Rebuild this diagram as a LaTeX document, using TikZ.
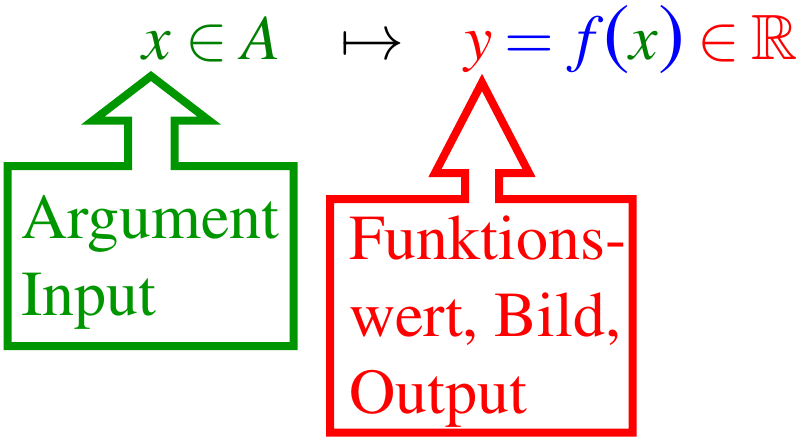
\documentclass[tikz,border=0pt]{standalone}
\usepackage[T1]{fontenc}
\usepackage{amssymb}
\usepackage{mathptmx}
\definecolor{gruen}{RGB}{0,150,0}
\definecolor{dgruen}{RGB}{0,128,0}
\definecolor{rot}{RGB}{255,0,0}
\definecolor{blau}{RGB}{0,0,255}
\newcommand{\klammer}[1]{\mbox{\fontsize{80}{80}\selectfont #1}}
\tikzset{
  rahmen/.style={line width=8pt, line join=miter},
  gross/.style={inner sep=0pt, font=\fontsize{64}{77}\selectfont},
}
\begin{document}
\begin{tikzpicture}[x=1pt, y=-1pt]
    \useasboundingbox (0,0) rectangle (803,437);
    % Zuordnung
    \node[gross, text=dgruen, anchor=base west] (arg) at (142,59) {$x\in A$};
    \node[gross, anchor=base west] (pfeil) at (340,59) {$\mapsto$};
    \node[gross, anchor=base west] (wert) at (464,59)
        {$\thickmuskip=3.4mu\color{rot}y\color{blau}=f\klammer{(}\color{dgruen}x\color{blau}\klammer{)}\color{rot}\in\mathbb{R}$};

    % Argument (gruen)
    \draw[rahmen, gruen] (151,76) -- (209,120.5) -- (174.5,120.5) -- (174.5,166)
        -- (293.5,166) -- (293.5,346) -- (7.5,346) -- (7.5,166) -- (128,166)
        -- (128,120.5) -- (93,120.5) -- cycle;
    \node[gross, text=gruen, anchor=base west, align=left] (eingabe) at (21,315)
        {Argument\\Input};

    % Funktionswert (rot)
    \draw[rahmen, rot] (482,82.5) -- (529,173) -- (499,173) -- (499,199)
        -- (632.5,199) -- (632.5,432.5) -- (330,432.5) -- (330,199) -- (465,199)
        -- (465,173) -- (435,173) -- cycle;
    \node[gross, text=rot, anchor=base west, align=left] (ausgabe) at (349,413)
        {Funktions-\\wert, Bild,\\Output};
\end{tikzpicture}
\end{document}
